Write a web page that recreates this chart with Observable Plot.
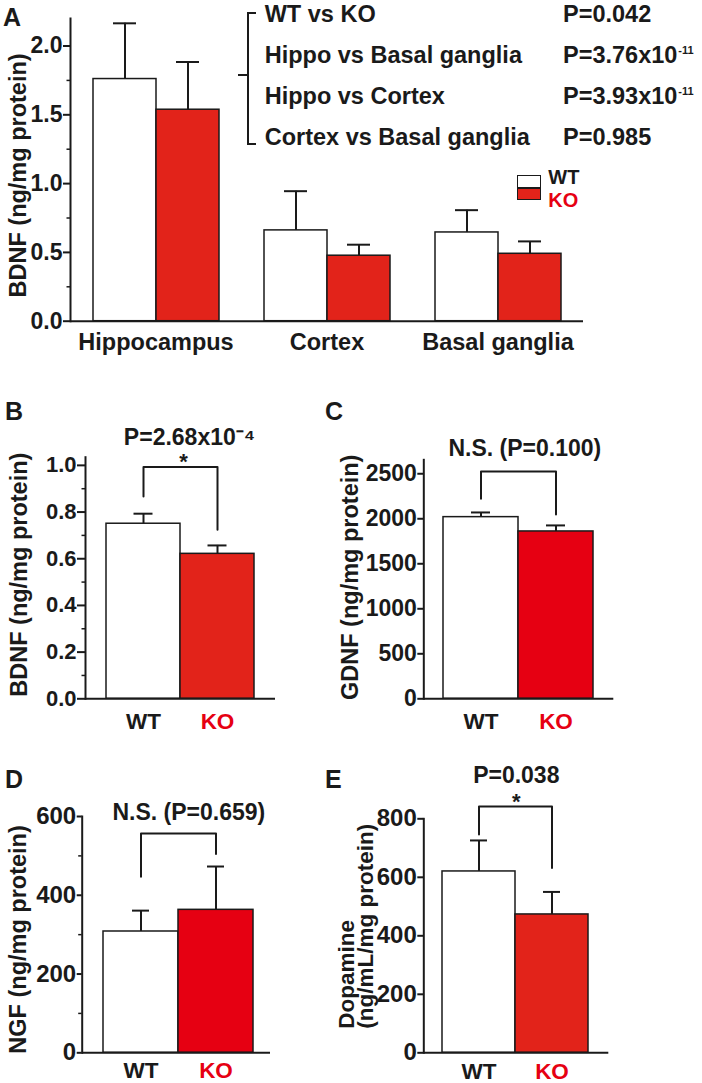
<!DOCTYPE html>
<html>
<head>
<meta charset="utf-8">
<script src="https://cdn.jsdelivr.net/npm/d3@7"></script>
<script src="https://cdn.jsdelivr.net/npm/@observablehq/plot@0.6"></script>
<style>
  html, body { margin: 0; padding: 0; background: #ffffff; }
  #fig { position: relative; width: 702px; height: 1083px; overflow: hidden;
         font-family: 'Liberation Sans', Arial, Helvetica, sans-serif; font-weight: bold; color: #1a1a1a; }
  .abs { position: absolute; white-space: nowrap; line-height: 1; }
  .ln { position: absolute; background: #1a1a1a; }
  .sup { font-size: 11px; position: relative; top: -9px; margin-left: 1px; }
</style>
</head>
<body>
<div id="fig"></div>
<script>
// ---------------- data ----------------
const genotypes = ["WT", "KO"];
const regions = ["Hippocampus", "Cortex", "Basal ganglia"];

// Panel A: BDNF by brain region (mean, SEM)
const bdnfRegionWT = [1.76, 0.66, 0.645];
const bdnfRegionWTsem = [0.405, 0.285, 0.162];
const bdnfRegionKO = [1.537, 0.476, 0.49];
const bdnfRegionKOsem = [0.347, 0.08, 0.09];
const statComparisons = ["WT vs KO", "Hippo vs Basal ganglia", "Hippo vs Cortex", "Cortex vs Basal ganglia"];
const statPvalues = ["P=0.042", "P=3.76x10<span class='sup'>-11</span>", "P=3.93x10<span class='sup'>-11</span>", "P=0.985"];

// Panels B–E: WT, KO
const bdnfTotal = [0.75, 0.621];
const bdnfTotalSem = [0.043, 0.036];
const gdnf = [2018, 1859];
const gdnfSem = [52, 67];
const ngf = [308, 363];
const ngfSem = [53, 110];
const dopamine = [620, 473];
const dopamineSem = [106, 77];

// significance brackets: [left leg end, bracket top, right leg end] in data units
const bracketB = [0.867, 0.993, 0.724];
const bracketC = [2222, 2526, 2048];
const bracketD = [447, 557, 505];
const bracketE = [746, 842, 632];

// ticks
const ticksA = [0, 0.5, 1.0, 1.5, 2.0];
const minorA = [0.25, 0.75, 1.25, 1.75];
const ticksB = [0, 0.2, 0.4, 0.6, 0.8, 1.0];
const minorB = [0.1, 0.3, 0.5, 0.7, 0.9];
const ticksC = [0, 500, 1000, 1500, 2000, 2500];
const ticksD = [0, 200, 400, 600];
const minorD = [100, 300, 500];
const ticksE = [0, 200, 400, 600, 800];

// ---------------- styles ----------------
const INK = "#1a1a1a";
const RED1 = "#e2231a";
const RED2 = "#e60012";
const FONT = "'Liberation Sans', Arial, Helvetica, sans-serif";
const fig = document.getElementById("fig");

function svgStyle(fs) {
  return {fontFamily: FONT, fontWeight: "bold", fontSize: fs + "px", color: INK, background: "transparent", overflow: "visible"};
}
function place(el, left, top) {
  el.style.position = "absolute";
  el.style.left = left + "px";
  el.style.top = top + "px";
  fig.appendChild(el);
}

// ---------------- Panel A ----------------
const dataA = regions.flatMap((r, i) => [
  {r, g: "WT", v: bdnfRegionWT[i], e: bdnfRegionWTsem[i]},
  {r, g: "KO", v: bdnfRegionKO[i], e: bdnfRegionKOsem[i]}
]);
const plotA = Plot.plot({
  width: 702, height: 360,
  marginLeft: 70, marginRight: 119, marginTop: 18, marginBottom: 39.3,
  style: svgStyle(22),
  fx: {domain: regions, padding: 0, axis: null, label: null},
  x: {domain: genotypes, paddingInner: 0, paddingOuter: 0.349, axis: null},
  y: {domain: [0, 2.2], axis: null},
  marks: [
    Plot.ruleX(dataA, {fx: "r", x: "g", y1: "v", y2: d => d.v + d.e, stroke: INK, strokeWidth: 2}),
    Plot.tickY(dataA, {fx: "r", x: "g", y: d => d.v + d.e, stroke: INK, strokeWidth: 2, insetLeft: 20, insetRight: 20}),
    Plot.barY(dataA.filter(d => d.g === "WT"), {fx: "r", x: "g", y: "v", fill: "white", stroke: INK, strokeWidth: 1.5}),
    Plot.barY(dataA.filter(d => d.g === "KO"), {fx: "r", x: "g", y: "v", fill: RED1, stroke: INK, strokeWidth: 1.5}),
    Plot.ruleY([0], {stroke: INK, strokeWidth: 2}),
    Plot.frame({anchor: "left", facetAnchor: "left", stroke: INK, strokeWidth: 2}),
    Plot.axisY(ticksA, {tickSize: 7, tickPadding: 1, tickFormat: d3.format(".1f"), label: null, fontSize: 23, strokeWidth: 2, color: INK}),
    Plot.axisY(minorA, {tickSize: 3.5, tickFormat: () => "", label: null, strokeWidth: 1.5, color: INK}),
    Plot.axisFx({anchor: "bottom", tickSize: 0, tickPadding: 12, label: null, fontSize: 23.5, color: INK}),
    Plot.text(["BDNF (ng/mg protein)"], {text: d => d, frameAnchor: "left", facetAnchor: "left", rotate: -90,
      textAnchor: "middle", lineAnchor: "top", dx: -61, dy: 5.6, fontSize: 23.5, fill: INK})
  ]
});
place(plotA, 0, 0);

// ---------------- Panels B–E ----------------
function simplePanel(cfg) {
  const data = genotypes.map((g, i) => ({g, v: cfg.values[i], e: cfg.sems[i]}));
  const br = [
    {g: "WT", v: cfg.bracket[0]}, {g: "WT", v: cfg.bracket[1]},
    {g: "KO", v: cfg.bracket[1]}, {g: "KO", v: cfg.bracket[2]}
  ];
  const top = [{v: cfg.bracket[1]}];
  const marks = [
    Plot.ruleX(data, {x: "g", y1: "v", y2: d => d.v + d.e, stroke: INK, strokeWidth: 2}),
    Plot.tickY(data, {x: "g", y: d => d.v + d.e, stroke: INK, strokeWidth: 2, insetLeft: cfg.capInset, insetRight: cfg.capInset}),
    Plot.barY(data.filter(d => d.g === "WT"), {x: "g", y: "v", fill: "white", stroke: INK, strokeWidth: 1.5}),
    Plot.barY(data.filter(d => d.g === "KO"), {x: "g", y: "v", fill: cfg.red, stroke: INK, strokeWidth: 1.5}),
    Plot.ruleY([0], {stroke: INK, strokeWidth: 2}),
    Plot.frame({anchor: "left", stroke: INK, strokeWidth: 2}),
    Plot.axisY(cfg.ticks, {tickSize: cfg.tickSize, tickPadding: 1, tickFormat: cfg.fmt, label: null, fontSize: cfg.tickFont, strokeWidth: 2, color: INK}),
    Plot.axisX(["WT"], {tickSize: 0, tickPadding: cfg.xPad, label: null, fontSize: 22.5, color: INK}),
    Plot.axisX(["KO"], {tickSize: 0, tickPadding: cfg.xPad, label: null, fontSize: 22.5, color: RED2}),
    Plot.line(br, {x: "g", y: "v", stroke: INK, strokeWidth: 2}),
    Plot.text(top, {y: "v", text: () => cfg.pText, dx: cfg.pDx, dy: cfg.pDy, fontSize: 23, fill: INK})
  ];
  if (cfg.minor.length) marks.push(Plot.axisY(cfg.minor, {tickSize: 3.5, tickFormat: () => "", label: null, strokeWidth: 1.5, color: INK}));
  if (cfg.star) marks.push(Plot.text(top, {y: "v", text: () => "*", dx: cfg.starDx, dy: cfg.starDy, fontSize: 22, fill: INK}));
  if (cfg.labelBottom) {
    marks.push(Plot.text([cfg.label], {text: d => d, frameAnchor: "bottom-left", rotate: -90, textAnchor: "start",
      lineAnchor: "top", lineHeight: 0.82, dx: cfg.labelDx, dy: cfg.labelDy, fontSize: 22.5, fill: INK}));
  } else {
    marks.push(Plot.text([cfg.label], {text: d => d, frameAnchor: "left", rotate: -90, textAnchor: "middle",
      lineAnchor: "top", dx: cfg.labelDx, dy: cfg.labelDy, fontSize: 23.5, fill: INK}));
  }
  const p = Plot.plot({
    width: cfg.w, height: cfg.h,
    marginLeft: cfg.ml, marginRight: cfg.mr, marginTop: cfg.mt, marginBottom: cfg.mb,
    style: svgStyle(22),
    x: {domain: genotypes, paddingInner: 0, paddingOuter: cfg.po, align: cfg.align, axis: null},
    y: {domain: cfg.domain, axis: null},
    marks
  });
  place(p, cfg.left, cfg.top);
}

simplePanel({values: bdnfTotal, sems: bdnfTotalSem, bracket: bracketB, red: RED1,
  left: 0, top: 380, w: 340, h: 360, ml: 85, mr: 65, mt: 76.7, mb: 41.7, po: 0.267, align: 0.5,
  domain: [0, 1.035], ticks: ticksB, minor: minorB, fmt: d3.format(".1f"), tickFont: 22, tickSize: 8,
  label: "BDNF (ng/mg protein)", labelDx: -75.5, labelDy: -3.3, xPad: 14, capInset: 27.5,
  pText: "P=2.68x10⁻⁴", pDx: 9, pDy: -29, star: true, starDx: 3, starDy: -5});

simplePanel({values: gdnf, sems: gdnfSem, bracket: bracketC, red: RED2,
  left: 340, top: 380, w: 362, h: 360, ml: 83.3, mr: 88.7, mt: 79.3, mb: 41.7, po: 0.26, align: 0.5,
  domain: [0, 2655], ticks: ticksC, minor: [], fmt: d3.format("d"), tickFont: 23, tickSize: 6,
  label: "GDNF (ng/mg protein)", labelDx: -82.5, labelDy: -2, xPad: 14, capInset: 28,
  pText: "N.S. (P=0.100)", pDx: 6, pDy: -22.7, star: false});

simplePanel({values: ngf, sems: ngfSem, bracket: bracketD, red: RED2,
  left: 0, top: 745, w: 340, h: 338, ml: 81.7, mr: 70, mt: 71, mb: 30.7, po: 0.242, align: 0.545,
  domain: [0, 600], ticks: ticksD, minor: minorD, fmt: d3.format("d"), tickFont: 24, tickSize: 5,
  label: "NGF (ng/mg protein)", labelDx: -73, labelDy: 4.8, xPad: 9.4, capInset: 29,
  pText: "N.S. (P=0.659)", pDx: 12.5, pDy: -20.7, star: false});

simplePanel({values: dopamine, sems: dopamineSem, bracket: bracketE, red: RED1,
  left: 340, top: 745, w: 362, h: 338, ml: 83.3, mr: 93.7, mt: 73.3, mb: 30.7, po: 0.2525, align: 0.475,
  domain: [0, 800], ticks: ticksE, minor: [], fmt: d3.format("d"), tickFont: 24, tickSize: 6,
  label: "Dopamine\n(ng/mL/mg protein)", labelBottom: true, labelDx: -82.5, labelDy: -24, xPad: 10.7, capInset: 28,
  pText: "P=0.038", pDx: 0, pDy: -31, star: true, starDx: 0, starDy: -4.7});

// ---------------- HTML annotations ----------------
function addText(html, left, top, fs, color, lh) {
  const d = document.createElement("div");
  d.className = "abs";
  d.innerHTML = html;
  d.style.left = left + "px";
  d.style.top = top + "px";
  d.style.fontSize = fs + "px";
  if (lh) d.style.lineHeight = lh;
  if (color) d.style.color = color;
  fig.appendChild(d);
  return d;
}
function addLine(left, top, w, h) {
  const d = document.createElement("div");
  d.className = "ln";
  Object.assign(d.style, {left: left + "px", top: top + "px", width: w + "px", height: h + "px"});
  fig.appendChild(d);
}

// panel letters
addText("A", 3, 5, 25);
addText("B", 5, 398.5, 25);
addText("C", 325, 398.5, 25);
addText("D", 5, 766.8, 25);
addText("E", 325, 766.8, 25);

// statistics block of panel A
statComparisons.forEach((s, i) => {
  addText(s, 264.7, 2.5 + i * 41, 23.5);
  addText(statPvalues[i], 563, 2.5 + i * 41, 23.5);
});
// curly bracket
addLine(246.7, 12.3, 2, 133);
addLine(246.7, 12.3, 9.5, 2);
addLine(246.7, 143.3, 9.5, 2);
addLine(237.7, 74, 10, 2);

// legend of panel A
const box = document.createElement("div");
Object.assign(box.style, {position: "absolute", left: "516.7px", top: "175px", width: "22px", height: "22.5px",
  border: "1.6px solid " + INK, background: `linear-gradient(to bottom, #fff 0, #fff 48%, ${INK} 48%, ${INK} 56%, ${RED1} 56%, ${RED1} 100%)`});
fig.appendChild(box);
addText(genotypes[0], 548.3, 165.6, 20, null, "23px");
addText(genotypes[1], 548.3, 188.6, 20, RED2, "23px");
</script>
</body>
</html>
